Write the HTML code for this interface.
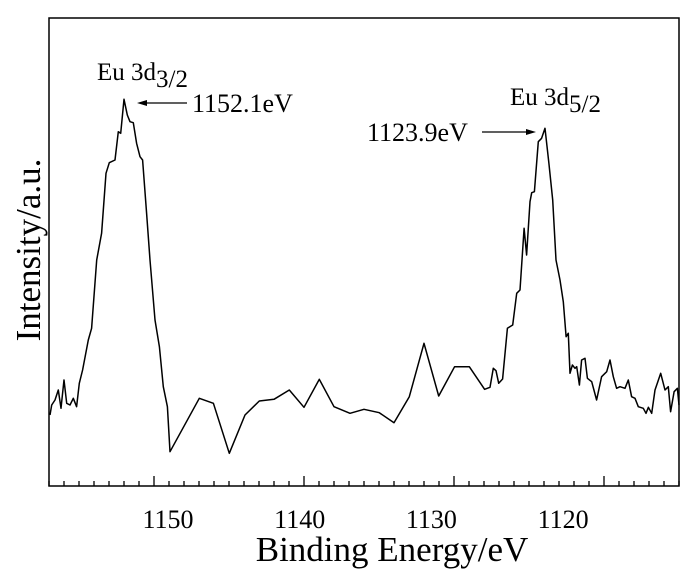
<!DOCTYPE html>
<html><head><meta charset="utf-8"><style>
body{margin:0;background:#fff}
svg{display:block;font-family:"Liberation Serif",serif}
</style></head><body>
<svg id="chart" width="700" height="576" viewBox="0 0 700 576">
<rect x="49" y="18" width="630" height="468" fill="none" stroke="#000" stroke-width="1.5"/>
<g id="ticks"></g>
<g id="labels" font-size="26" text-anchor="middle"></g>
<path id="trace" fill="none" stroke="#000" stroke-width="1.5" stroke-linejoin="round"/>
<text x="392" y="561" font-size="35" text-anchor="middle">Binding Energy/eV</text>
<text transform="translate(40,250) rotate(-90)" font-size="35" text-anchor="middle">Intensity/a.u.</text>
<text x="97" y="80" font-size="25">Eu 3d<tspan font-size="25" dy="7">3/2</tspan></text>
<text x="192" y="112" font-size="26">1152.1eV</text>
<line x1="187" y1="103" x2="144" y2="103" stroke="#000" stroke-width="1.2"/>
<polygon points="137,103 147,100 147,106" fill="#000"/>
<text x="510" y="105" font-size="25">Eu 3d<tspan font-size="25" dy="7">5/2</tspan></text>
<text x="367" y="141" font-size="26">1123.9eV</text>
<line x1="482" y1="132" x2="528" y2="132" stroke="#000" stroke-width="1.2"/>
<polygon points="536,132 526,129 526,135" fill="#000"/>
</svg>
<script>
const energies=[1156.93,1156.82,1156.60,1156.38,1156.20,1156.00,1155.82,1155.60,1155.38,1155.16,1154.98,1154.76,1154.38,1154.16,1153.82,1153.49,1153.20,1152.98,1152.60,1152.38,1152.22,1152.00,1151.78,1151.60,1151.38,1151.16,1150.93,1150.76,1150.49,1150.27,1149.93,1149.64,1149.38,1149.11,1148.93,1146.98,1146.04,1144.98,1143.93,1142.98,1142.00,1140.98,1140.00,1138.98,1138.00,1136.93,1136.00,1134.98,1134.00,1132.98,1132.00,1131.02,1129.96,1128.98,1127.96,1127.60,1127.38,1127.20,1127.02,1126.76,1126.44,1126.09,1125.82,1125.60,1125.33,1125.16,1124.93,1124.82,1124.64,1124.38,1124.16,1123.93,1123.67,1123.42,1123.20,1122.93,1122.71,1122.53,1122.38,1122.27,1122.11,1121.93,1121.82,1121.64,1121.49,1121.27,1121.11,1120.82,1120.49,1120.16,1119.82,1119.60,1119.38,1119.16,1118.93,1118.60,1118.38,1118.16,1117.93,1117.71,1117.38,1117.20,1117.04,1116.82,1116.60,1116.22,1115.93,1115.71,1115.56,1115.33,1115.11,1115.00];
const intensities=[71,81,86,96,77.7,106,82.7,81,87.7,79.3,102.7,116,146,157.7,226,252.7,312.7,323.3,326,354.3,352.7,386.7,371,364.3,363.3,342.7,329.3,326,272.7,226,166,139.3,99.3,79.3,34.3,87.7,82.7,32.7,71,85,86.7,96,78.7,106.7,79.3,72.7,76.7,73.3,63.3,89.3,142.7,90,119.3,119.3,96.7,98.7,117.7,115.3,102.7,107,157.7,161,192.7,196,257.7,231,284.3,293.3,294.3,344.3,347.7,357.7,322.7,286,226,206,184.3,149.3,152.7,112.7,121,117.7,119.3,101,126,127.7,107.7,104.3,86,109.3,114.3,126,109.3,97.7,99.3,97.7,106,89.3,87.7,79.3,77.7,72.7,78.7,72.7,96,112.7,96,99.3,74.3,94.3,97.7,81];
const tickLabels=[1150,1140,1130,1120];
const NS="http://www.w3.org/2000/svg";
function x(v){return 154+(1150-v)*15;}
function y(v){return 486-v;}
function lx(v){return 168+(1150-v)*13.17;}
let d="";
for(let i=0;i<energies.length;i++){d+=(i?"L":"M")+x(energies[i]).toFixed(1)+","+y(intensities[i]).toFixed(1);}
document.getElementById("trace").setAttribute("d",d);
const tg=document.getElementById("ticks");
for(let v=1157;v>=1115;v--){
  const ln=document.createElementNS(NS,"line");
  
  
  const major=v%10===0;
  ln.setAttribute("x1",x(v));ln.setAttribute("x2",x(v));
  ln.setAttribute("y1",486);ln.setAttribute("y2",486-(major?10:5));
  ln.setAttribute("stroke","#000");ln.setAttribute("stroke-width","1.3");
  tg.appendChild(ln);
}
const lg=document.getElementById("labels");
tickLabels.forEach(v=>{
  const t=document.createElementNS(NS,"text");
  
  
  t.setAttribute("x",lx(v));t.setAttribute("y",528);
  t.textContent=v;lg.appendChild(t);
});
</script>
</body></html>
